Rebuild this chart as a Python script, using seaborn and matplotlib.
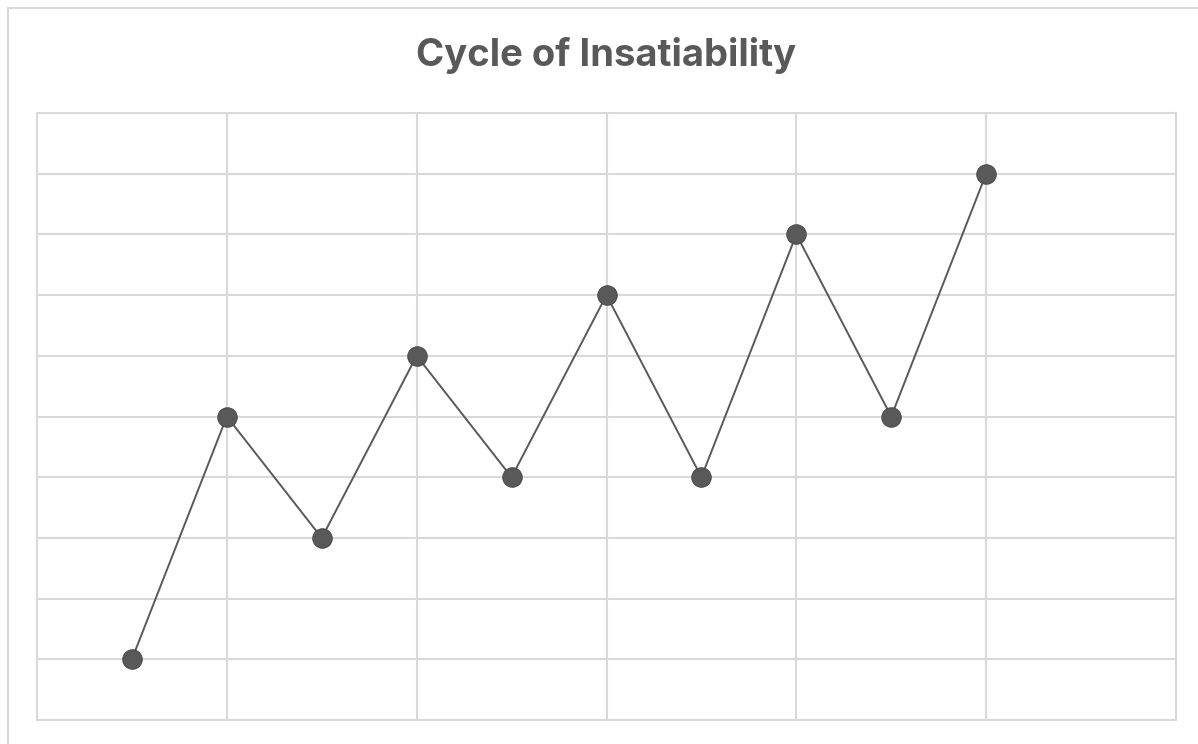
import matplotlib
matplotlib.use("Agg")
import matplotlib.pyplot as plt
import seaborn as sns
import pandas as pd
from matplotlib.patches import Rectangle

x_values = [0.5, 1, 1.5, 2, 2.5, 3, 3.5, 4, 4.5, 5]
y_values = [1, 5, 3, 6, 4, 7, 4, 8, 5, 9]
title = "Cycle of Insatiability"

df = pd.DataFrame({"x": x_values, "y": y_values})

sns.set_style("white")
plt.rcParams['font.family'] = ['Inter', 'DejaVu Sans']

fig = plt.figure(figsize=(11.98, 7.44), dpi=100)
fig.patches.append(Rectangle((8/1198, -0.01), 1.02, (744-8)/744 + 0.01, transform=fig.transFigure,
                             fill=False, edgecolor="#d9d9d9", linewidth=1.5))
ax = fig.add_axes([37/1198, 24/744, 1139/1198, 607/744])

sns.lineplot(data=df, x="x", y="y", ax=ax, color="#595959", linewidth=1.4,
             marker="o", markersize=14, markeredgecolor="#4a4a4a", markerfacecolor="#595959",
             sort=False, zorder=3)

ax.set_xlim(0, 6)
ax.set_ylim(0, 10)
ax.set_xticks(range(0, 7))
ax.set_yticks(range(0, 11))
ax.grid(True, color="#d9d9d9", linewidth=1.5)
ax.tick_params(length=0, labelleft=False, labelbottom=False)
ax.set_xlabel("")
ax.set_ylabel("")
for s in ax.spines.values():
    s.set_color("#d9d9d9")
    s.set_linewidth(1.5)

fig.text(606.5/1198, 1 - 66/744, title, ha="center", va="baseline", fontsize=27.5,
         fontweight="bold", color="#595959")

fig.savefig("out.png", dpi=100)
